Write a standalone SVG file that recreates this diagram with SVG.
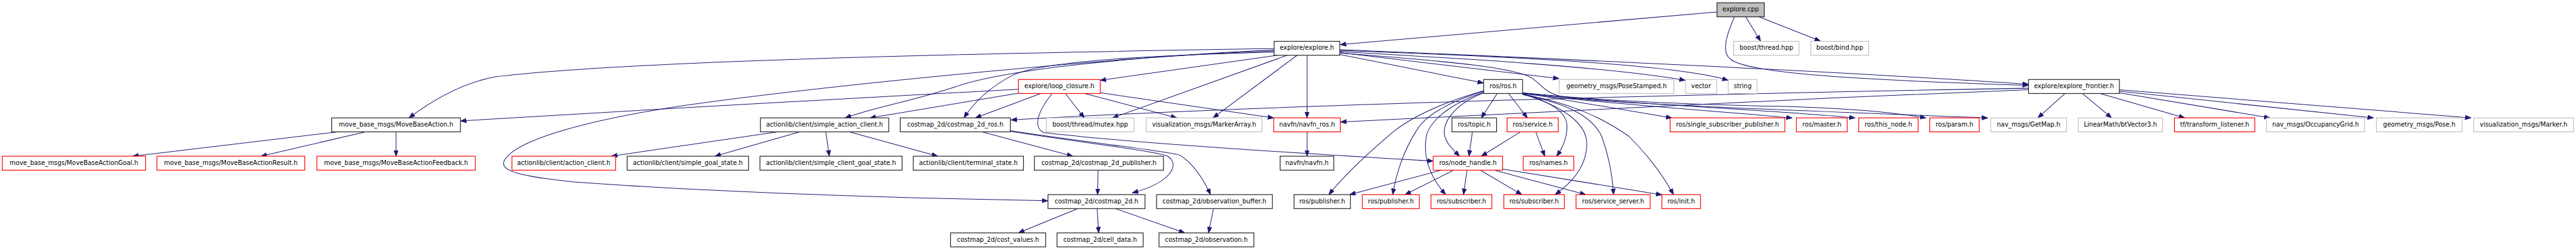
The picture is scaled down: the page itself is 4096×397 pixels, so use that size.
<svg xmlns="http://www.w3.org/2000/svg" width="4096" height="397" viewBox="0 0 4096 397">
<defs>
<style>
.n rect{fill:#fff;stroke-width:1.5}
.b rect{stroke:#222}
.r rect{stroke:#ff0000}
.g rect{stroke:#bfbfbf}
.n text{font-family:"DejaVu Sans",sans-serif;font-size:12.6px;text-anchor:middle;fill:#000}
#edges path{fill:none;stroke:#191970;stroke-width:1.3;marker-end:url(#ah)}
</style>
<marker id="ah" markerUnits="userSpaceOnUse" markerWidth="14" markerHeight="11" refX="12" refY="4.5" orient="auto"><path d="M0,0 L12,4.5 L0,9 Z" fill="#191970" stroke="#191970" stroke-width="1"/></marker>
</defs>
<rect width="4096" height="397" fill="#fff"/>
<g transform="scale(0.787238)">
<g id="edges">
<path d="M3468,24 L2707,90"/>
<path d="M3526,34 L3556,83"/>
<path d="M3553,34 L3677,83"/>
<path d="M3503,34 C3488,70 3475,105 3496,120 C3530,145 3700,160 4097,172"/>
<path d="M2573.5,98 C2200,104 1300,118 1000,155 C930,168 870,205 826,237.8"/>
<path d="M2573.5,101 C2300,112 1700,168 1380,213 C1200,240 1040,280 1018,325 C1010,345 1050,356 1160,367 C1500,392 1900,401 2116.5,405"/>
<path d="M2573.5,103 C2300,112 2030,140 1930,175 C1840,205 1770,215 1707,237.8"/>
<path d="M2573.5,105 C2300,112 2100,125 2045,152 C1995,178 1965,210 1947,237.8"/>
<path d="M2580,111.5 L2222,162"/>
<path d="M2600,111.5 L2247,237.8"/>
<path d="M2620,111.5 L2450,237.8"/>
<path d="M2640,111.5 L2640,237.8"/>
<path d="M2706,110 L2996.5,167.5"/>
<path d="M2706,106 L3149,158.5"/>
<path d="M2706,104 C2950,118 3250,135 3404,162"/>
<path d="M2706,102 C3000,112 3380,128 3490.5,162"/>
<path d="M2706,100 C3300,125 3800,150 4097,170"/>
<path d="M2706,107 C2950,125 3065,138 3095,158 C3115,172 3120,188 3160,196 C3230,208 3600,222 4015,238"/>
<path d="M2057,180 C1700,198 1300,222 930,244"/>
<path d="M2057,188 L1757,237.8"/>
<path d="M2102,188.6 L1970,237.8"/>
<path d="M2152,188.6 L2190,237.8"/>
<path d="M2191,188.6 L2377,237.8"/>
<path d="M2222,187 L2572.7,238"/>
<path d="M2125,188.6 C2098,222 2085,255 2107,267 C2250,285 2600,308 2894.8,325"/>
<path d="M4097,178 C3500,188 2600,210 2042,242"/>
<path d="M4097,181 C3600,200 3000,232 2707.5,246"/>
<path d="M4171,188.6 L4116,237.8"/>
<path d="M4206,188.6 L4265,237.8"/>
<path d="M4242,188.6 L4413,237.8"/>
<path d="M4280,187 L4585,237.8"/>
<path d="M4280,184 L4794,237.8"/>
<path d="M4280,181 L4991,237.8"/>
<path d="M3024,188.6 L2992,237.8"/>
<path d="M3047,188.6 L3085,237.8"/>
<path d="M2997,187 C2950,205 2920,235 2917,262 C2915,285 2935,302 2948,315.1"/>
<path d="M2997,183 C2920,205 2860,230 2815,265 C2750,320 2710,360 2684,392.6"/>
<path d="M2997,184 C2930,205 2880,230 2860,265 C2835,305 2820,350 2813,392.6"/>
<path d="M2997,186 C2940,205 2895,235 2882,270 C2870,320 2895,365 2920,392.6"/>
<path d="M3075.3,189 C3130,205 3165,225 3165,255 C3165,280 3155,300 3144,315.1"/>
<path d="M3075.3,190 C3160,215 3205,250 3205,290 C3205,330 3180,365 3141,392.6"/>
<path d="M3075.3,191 C3160,208 3215,232 3235,275 C3250,315 3257,360 3259,392.6"/>
<path d="M3075.3,190 C3180,210 3240,240 3290,275 C3330,315 3360,355 3380,392.6"/>
<path d="M3075.3,187 L3377,238"/>
<path d="M3075.3,189 C3300,215 3500,226 3620,238"/>
<path d="M3075.3,188 C3300,212 3600,222 3747,238"/>
<path d="M3075.3,187 C3250,205 3450,212 3570,214 C3700,216 3820,225 3890,238"/>
<path d="M2974,266 L2967,315.1"/>
<path d="M3071,266 L2992,315.1"/>
<path d="M3102,266 L3120,315.1"/>
<path d="M2911,343.3 L2726,392.6"/>
<path d="M2936,343.3 L2838,392.6"/>
<path d="M2963,343.3 L2956,392.6"/>
<path d="M2990,343.3 L3074,392.6"/>
<path d="M3018,343.3 L3203,392.6"/>
<path d="M3035,341 L3356.7,393"/>
<path d="M2640,266 L2640,315.1"/>
<path d="M1984,266 L2167,315.1"/>
<path d="M2040,265 C2200,290 2340,305 2360,316 C2385,335 2360,370 2287,389"/>
<path d="M2040,263.5 C2200,288 2360,305 2383,313 C2410,330 2430,360 2445,392.6"/>
<path d="M2218,343.3 L2217,392.6"/>
<path d="M2177,420.8 L2057,469.8"/>
<path d="M2216,420.8 L2219,469.8"/>
<path d="M2253,420.8 L2393,469.8"/>
<path d="M2451,420.8 L2441,469.8"/>
<path d="M1570,266 L1235,315"/>
<path d="M1615,266 L1444,315.1"/>
<path d="M1668,266 L1675,315.1"/>
<path d="M1716,266 L1894,315.1"/>
<path d="M682,266 L268,315.1"/>
<path d="M738,266 L527,315.1"/>
<path d="M800,266 L800,315.1"/>
</g>
<g id="n_explore_cpp" class="n b"><rect x="3468" y="5.7" width="95.5" height="28.2" style="fill:#bfbfbf"/><text x="3515.75" y="23.3">explore.cpp</text></g>
<g id="n_explore_h" class="n b"><rect x="2573.5" y="83.3" width="132.5" height="28.2"/><text x="2639.75" y="100.9">explore/explore.h</text></g>
<g id="n_boost_thread" class="n g"><rect x="3501.7" y="83.3" width="131.9" height="28.2"/><text x="3567.65" y="100.9">boost/thread.hpp</text></g>
<g id="n_boost_bind" class="n g"><rect x="3657.2" y="83.3" width="117.3" height="28.2"/><text x="3715.85" y="100.9">boost/bind.hpp</text></g>
<g id="n_loop_closure" class="n r"><rect x="2057" y="160.4" width="165.3" height="28.2"/><text x="2139.65" y="178">explore/loop_closure.h</text></g>
<g id="n_ros_ros" class="n b"><rect x="2996.7" y="160.4" width="78.6" height="28.2"/><text x="3036" y="178">ros/ros.h</text></g>
<g id="n_posestamped" class="n g"><rect x="3149.3" y="160.4" width="231.7" height="28.2"/><text x="3265.15" y="178">geometry_msgs/PoseStamped.h</text></g>
<g id="n_vector" class="n g"><rect x="3404.3" y="160.4" width="63" height="28.2"/><text x="3435.8" y="178">vector</text></g>
<g id="n_string" class="n g"><rect x="3490.7" y="160.4" width="58.3" height="28.2"/><text x="3519.85" y="178">string</text></g>
<g id="n_frontier" class="n b"><rect x="4097.2" y="160.4" width="183.5" height="28.2"/><text x="4188.95" y="178">explore/explore_frontier.h</text></g>
<g id="n_mbaction" class="n b"><rect x="670" y="237.8" width="260" height="28.2"/><text x="800" y="255.4">move_base_msgs/MoveBaseAction.h</text></g>
<g id="n_sac" class="n b"><rect x="1536" y="237.8" width="259" height="28.2"/><text x="1665.5" y="255.4">actionlib/client/simple_action_client.h</text></g>
<g id="n_cm_ros" class="n b"><rect x="1818.3" y="237.8" width="222.4" height="28.2"/><text x="1929.5" y="255.4">costmap_2d/costmap_2d_ros.h</text></g>
<g id="n_mutex" class="n g"><rect x="2113.3" y="237.8" width="177.4" height="28.2"/><text x="2202" y="255.4">boost/thread/mutex.hpp</text></g>
<g id="n_markerarray" class="n g"><rect x="2315" y="237.8" width="234" height="28.2"/><text x="2432" y="255.4">visualization_msgs/MarkerArray.h</text></g>
<g id="n_navfn_ros" class="n r"><rect x="2572.7" y="237.8" width="134.6" height="28.2"/><text x="2640" y="255.4">navfn/navfn_ros.h</text></g>
<g id="n_topic" class="n b"><rect x="2932.7" y="237.8" width="90" height="28.2"/><text x="2977.7" y="255.4">ros/topic.h</text></g>
<g id="n_service" class="n r"><rect x="3044" y="237.8" width="103.3" height="28.2"/><text x="3095.65" y="255.4">ros/service.h</text></g>
<g id="n_ssp" class="n r"><rect x="3373.3" y="237.8" width="231.7" height="28.2"/><text x="3489.15" y="255.4">ros/single_subscriber_publisher.h</text></g>
<g id="n_master" class="n r"><rect x="3628.3" y="237.8" width="102.7" height="28.2"/><text x="3679.65" y="255.4">ros/master.h</text></g>
<g id="n_this_node" class="n r"><rect x="3754.3" y="237.8" width="120" height="28.2"/><text x="3814.3" y="255.4">ros/this_node.h</text></g>
<g id="n_param" class="n r"><rect x="3897.7" y="237.8" width="100" height="28.2"/><text x="3947.7" y="255.4">ros/param.h</text></g>
<g id="n_getmap" class="n g"><rect x="4021" y="237.8" width="153" height="28.2"/><text x="4097.5" y="255.4">nav_msgs/GetMap.h</text></g>
<g id="n_btvector" class="n g"><rect x="4197.6" y="237.8" width="170.4" height="28.2"/><text x="4282.8" y="255.4">LinearMath/btVector3.h</text></g>
<g id="n_tf" class="n r"><rect x="4392" y="237.8" width="162.3" height="28.2"/><text x="4473.15" y="255.4">tf/transform_listener.h</text></g>
<g id="n_occgrid" class="n g"><rect x="4577.9" y="237.8" width="198.1" height="28.2"/><text x="4676.95" y="255.4">nav_msgs/OccupancyGrid.h</text></g>
<g id="n_pose" class="n g"><rect x="4799.8" y="237.8" width="173.4" height="28.2"/><text x="4886.5" y="255.4">geometry_msgs/Pose.h</text></g>
<g id="n_marker" class="n g"><rect x="4996.3" y="237.8" width="201.6" height="28.2"/><text x="5097.1" y="255.4">visualization_msgs/Marker.h</text></g>
<g id="n_goal" class="n r"><rect x="4.5" y="315.1" width="289.6" height="28.2"/><text x="149.3" y="332.7">move_base_msgs/MoveBaseActionGoal.h</text></g>
<g id="n_result" class="n r"><rect x="317" y="315.1" width="298.6" height="28.2"/><text x="466.3" y="332.7">move_base_msgs/MoveBaseActionResult.h</text></g>
<g id="n_feedback" class="n r"><rect x="640" y="315.1" width="320" height="28.2"/><text x="800" y="332.7">move_base_msgs/MoveBaseActionFeedback.h</text></g>
<g id="n_action_client" class="n r"><rect x="1034" y="315.1" width="209.3" height="28.2"/><text x="1138.65" y="332.7">actionlib/client/action_client.h</text></g>
<g id="n_sgs" class="n b"><rect x="1266.7" y="315.1" width="245.3" height="28.2"/><text x="1389.35" y="332.7">actionlib/client/simple_goal_state.h</text></g>
<g id="n_scgs" class="n b"><rect x="1535" y="315.1" width="287" height="28.2"/><text x="1678.5" y="332.7">actionlib/client/simple_client_goal_state.h</text></g>
<g id="n_terminal" class="n b"><rect x="1844.6" y="315.1" width="222.7" height="28.2"/><text x="1955.95" y="332.7">actionlib/client/terminal_state.h</text></g>
<g id="n_cm_pub" class="n b"><rect x="2089.3" y="315.1" width="260.7" height="28.2"/><text x="2219.65" y="332.7">costmap_2d/costmap_2d_publisher.h</text></g>
<g id="n_navfn" class="n b"><rect x="2585.6" y="315.1" width="108.4" height="28.2"/><text x="2639.8" y="332.7">navfn/navfn.h</text></g>
<g id="n_node_handle" class="n r"><rect x="2894.8" y="315.1" width="140.2" height="28.2"/><text x="2964.9" y="332.7">ros/node_handle.h</text></g>
<g id="n_names" class="n r"><rect x="3076.7" y="315.1" width="102.1" height="28.2"/><text x="3127.75" y="332.7">ros/names.h</text></g>
<g id="n_costmap" class="n b"><rect x="2116.7" y="392.6" width="196" height="28.2"/><text x="2214.7" y="410.2">costmap_2d/costmap_2d.h</text></g>
<g id="n_obsbuf" class="n b"><rect x="2336" y="392.6" width="234" height="28.2"/><text x="2453" y="410.2">costmap_2d/observation_buffer.h</text></g>
<g id="n_pub_b" class="n b"><rect x="2613.7" y="392.6" width="113.9" height="28.2"/><text x="2670.65" y="410.2">ros/publisher.h</text></g>
<g id="n_pub_r" class="n r"><rect x="2751.7" y="392.6" width="115.1" height="28.2"/><text x="2809.25" y="410.2">ros/publisher.h</text></g>
<g id="n_sub1" class="n r"><rect x="2890.3" y="392.6" width="122.9" height="28.2"/><text x="2951.75" y="410.2">ros/subscriber.h</text></g>
<g id="n_sub2" class="n r"><rect x="3037.4" y="392.6" width="122.3" height="28.2"/><text x="3098.55" y="410.2">ros/subscriber.h</text></g>
<g id="n_srv_server" class="n r"><rect x="3183.3" y="392.6" width="149.7" height="28.2"/><text x="3258.15" y="410.2">ros/service_server.h</text></g>
<g id="n_init" class="n r"><rect x="3356.7" y="392.6" width="78" height="28.2"/><text x="3395.7" y="410.2">ros/init.h</text></g>
<g id="n_cost_values" class="n b"><rect x="1920" y="469.8" width="192" height="28.2"/><text x="2016" y="487.4">costmap_2d/cost_values.h</text></g>
<g id="n_cell_data" class="n b"><rect x="2135" y="469.8" width="174" height="28.2"/><text x="2222" y="487.4">costmap_2d/cell_data.h</text></g>
<g id="n_observation" class="n b"><rect x="2341" y="469.8" width="191.6" height="28.2"/><text x="2436.8" y="487.4">costmap_2d/observation.h</text></g>
</g>
</svg>
